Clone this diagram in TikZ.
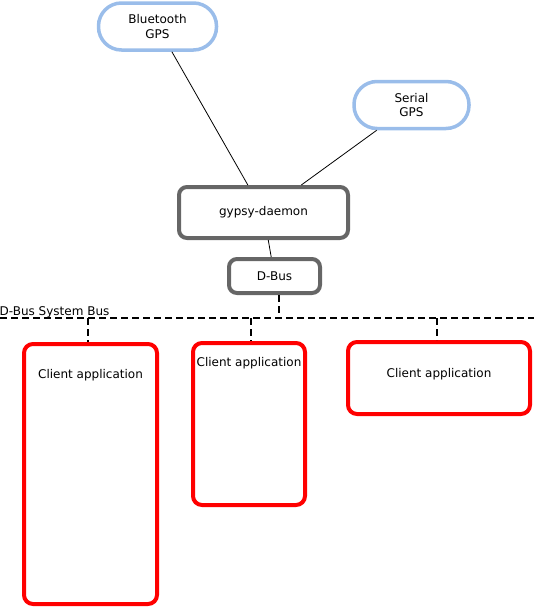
\documentclass[tikz,border=0pt]{standalone}
\usepackage{fontspec}
\setmainfont{DejaVu Sans}
\usetikzlibrary{positioning}

\definecolor{gpsblue}{HTML}{9ABDEA}
\definecolor{boxgray}{HTML}{666666}
\newcommand{\diafont}{\fontsize{12}{14.5}\selectfont}

\tikzset{
	gps/.style={draw=gpsblue, line width=3.5pt, rounded corners=23pt, minimum height=47pt, align=center, font=\diafont},
	proc/.style={draw=boxgray, line width=4pt, rounded corners=8pt, font=\diafont},
	app/.style={draw=red, line width=4pt, rounded corners=9pt},
	apptext/.style={anchor=center, font=\diafont},
	link/.style={line width=0.8pt},
	bus/.style={line width=2pt, dash pattern=on 7pt off 4pt},
}

\begin{document}
\begin{tikzpicture}[x=1pt, y=-1pt]
		\useasboundingbox (0,0) rectangle (534,608);

		% gps sources
		\node[gps, minimum width=118pt] (bt) at (157.5,26.5) {Bluetooth\\GPS};
		\node[gps, minimum width=115pt] (serial) at (411.5,105) {Serial\\GPS};

		% daemon and bus
		\node[proc, minimum width=169pt, minimum height=51pt] (daemon) at (263.5,212.5) {gypsy-daemon};
		\node[proc, minimum width=91pt, minimum height=34pt] (dbus) at (274.5,276) {D-Bus};

		\draw[link] (bt) -- (daemon);
		\draw[link] (serial) -- (daemon);
		\draw[link] (daemon) -- (dbus);

		% system bus
		\coordinate (busw) at (0,318);
		\coordinate (buse) at (534,318);
		\node[anchor=base west, inner sep=0pt, font=\diafont] (buslabel) at (-0.5,315.5) {D-Bus System Bus};
		\draw[bus] (busw) -- (buse);

		% clients
		\node[app, minimum width=133pt, minimum height=260pt,
			label={[apptext, yshift=-33pt]north:Client application}] (app1) at (90.5,474) {};
		\node[app, minimum width=112pt, minimum height=162pt,
			label={[apptext, yshift=-22pt]north:Client application}] (app2) at (249,424) {};
		\node[app, minimum width=182pt, minimum height=72pt,
			label={[apptext, yshift=-34pt]north:Client application}] (app3) at (439,378) {};

		\coordinate (bus0) at (278.5,318);
		\coordinate (bus1) at (87.5,318);
		\coordinate (bus2) at (250.5,318);
		\coordinate (bus3) at (437,318);
		\draw[bus] (bus0 |- dbus.south) -- (bus0);
		\draw[bus] (bus1) -- (bus1 |- app1.north);
		\draw[bus] (bus2) -- (bus2 |- app2.north);
		\draw[bus] (bus3) -- (bus3 |- app3.north);
\end{tikzpicture}
\end{document}
